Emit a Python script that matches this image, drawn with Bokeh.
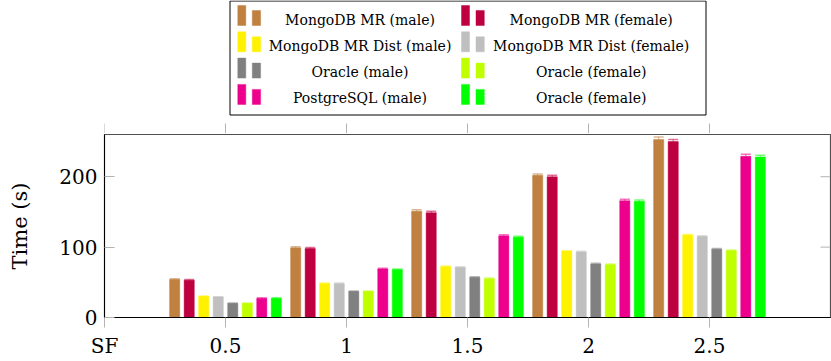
import math
from bokeh.plotting import figure
from bokeh.layouts import column
from bokeh.models import (ColumnDataSource, FixedTicker, Range1d, Whisker, Label, TeeHead)
from bokeh.embed import file_html
from bokeh.resources import INLINE

# ---------------- data ----------------
sf = [0.5, 1.0, 1.5, 2.0, 2.5]

series_names = ["MongoDB MR (male)", "MongoDB MR (female)",
                "MongoDB MR Dist (male)", "MongoDB MR Dist (female)",
                "Oracle (male)", "Oracle (female)",
                "PostgreSQL (male)", "Oracle (female)"]
series_colors = ["#BF8040", "#BF0040", "#FFF200", "#BFBFBF",
                 "#808080", "#BFFF00", "#EC008C", "#00FF00"]

mongo_mr_male = [54, 99, 151, 202, 253]
mongo_mr_female = [53, 98, 149, 200, 250]
mongo_dist_male = [30, 48, 72, 94, 117]
mongo_dist_female = [29, 48, 71, 93, 115]
oracle_male = [20, 37, 57, 76, 97]
oracle_female = [20, 37, 55, 75, 95]
postgres_male = [27, 69, 116, 166, 229]
oracle_female_2 = [27, 68, 114, 165, 228]

mongo_mr_male_err = [1.0, 1.5, 2.0, 2.0, 3.5]
mongo_mr_female_err = [1.0, 1.5, 2.0, 2.0, 3.0]
mongo_dist_male_err = [0.5, 1.0, 1.0, 1.0, 1.0]
mongo_dist_female_err = [0.5, 1.0, 1.0, 1.0, 1.0]
oracle_male_err = [0.5, 0.5, 1.0, 1.0, 1.0]
oracle_female_err = [0.5, 0.5, 1.0, 1.0, 1.0]
postgres_male_err = [1.0, 1.0, 1.5, 2.0, 3.0]
oracle_female_2_err = [1.0, 1.0, 1.5, 2.0, 2.5]

xtick_values = [0, 0.5, 1, 1.5, 2, 2.5]
xtick_labels = ["SF", "0.5", "1", "1.5", "2", "2.5"]
ytick_values = [0, 100, 200]

series_values = [mongo_mr_male, mongo_mr_female, mongo_dist_male, mongo_dist_female,
                 oracle_male, oracle_female, postgres_male, oracle_female_2]
series_errors = [mongo_mr_male_err, mongo_mr_female_err, mongo_dist_male_err,
                 mongo_dist_female_err, oracle_male_err, oracle_female_err,
                 postgres_male_err, oracle_female_2_err]

SERIF = "DejaVu Serif"
TICK_GRAY = "#b3b3b3"
W, H = 831, 361
LEG_H = 133
FRAME_L, FRAME_R = 104, 830

x_range = Range1d(0, 3)

# ---------------- main plot ----------------
p = figure(width=W, height=H - LEG_H, x_range=x_range, y_range=Range1d(0, 260),
           output_backend="svg", toolbar_location=None,
           min_border_left=FRAME_L, min_border_right=W - FRAME_R, min_border_top=1,
           min_border_bottom=44)
p.background_fill_color = "white"
p.border_fill_color = "white"
p.xgrid.grid_line_color = None
p.ygrid.grid_line_color = None
p.outline_line_color = "#505050"
p.outline_line_width = 1.2

bar_step = 0.06
bar_width = 0.042
n = len(series_values)
for i, (vals, errs, col) in enumerate(zip(series_values, series_errors, series_colors)):
    off = (i - (n - 1) / 2) * bar_step
    xs = [s + off for s in sf]
    src = ColumnDataSource(dict(x=xs, top=vals,
                                upper=[v + e for v, e in zip(vals, errs)],
                                lower=[v - e for v, e in zip(vals, errs)]))
    p.vbar(x="x", top="top", bottom=0, width=bar_width, source=src,
           fill_color=col, line_color=col, line_alpha=0.45, line_width=1)
    w = Whisker(source=src, base="x", upper="upper", lower="lower",
                line_color=col, line_alpha=0.55, line_width=1,
                upper_head=TeeHead(size=10, line_color=col, line_alpha=0.55, line_width=1.5),
                lower_head=TeeHead(size=10, line_color=col, line_alpha=0.55, line_width=1.5))
    p.add_layout(w)

# right mirrored (inward) y ticks
p.ray(x=[x_range.end] * len(ytick_values), y=ytick_values, length=10, length_units="screen",
      angle=math.pi, line_color=TICK_GRAY, line_width=1)

# bottom x axis
xa = p.xaxis[0]
xa.ticker = FixedTicker(ticks=xtick_values)
xa.major_label_overrides = {float(v): lab for v, lab in zip(xtick_values, xtick_labels)}
xa.minor_tick_line_color = None
xa.major_tick_in = 0
xa.major_tick_out = 10
xa.major_tick_line_color = TICK_GRAY
xa.axis_line_color = "black"
xa.major_label_text_font = SERIF
xa.major_label_text_font_size = "20px"
xa.major_label_text_color = "black"
xa.major_label_standoff = 6

# left y axis
ya = p.yaxis[0]
ya.ticker = FixedTicker(ticks=ytick_values)
ya.minor_tick_line_color = None
ya.major_tick_in = 10
ya.major_tick_out = 0
ya.major_tick_line_color = TICK_GRAY
ya.axis_line_color = "black"
ya.major_label_text_font = SERIF
ya.major_label_text_font_size = "20px"
ya.major_label_text_color = "black"
ya.major_label_standoff = 7
ya.axis_label = "Time (s)"
ya.axis_label_text_font = SERIF
ya.axis_label_text_font_size = "21px"
ya.axis_label_text_font_style = "normal"
ya.axis_label_text_color = "black"
ya.axis_label_standoff = 24

# ---------------- legend panel (shares x frame with the plot) ----------------
leg = figure(width=W, height=LEG_H, x_range=x_range, y_range=Range1d(LEG_H, 0),
             output_backend="svg", toolbar_location=None,
             x_axis_location=None, y_axis_location=None,
             min_border_left=FRAME_L, min_border_right=W - FRAME_R,
             min_border_top=0, min_border_bottom=0)
leg.grid.visible = False
leg.outline_line_color = None
leg.background_fill_color = "white"
leg.border_fill_color = "white"


def px(xpix):
    """page pixel -> data x of the shared frame"""
    return (xpix - FRAME_L) / (FRAME_R - FRAME_L) * (x_range.end - x_range.start) + x_range.start


# top mirrored (outward) x ticks, just above the plot frame
leg.segment(x0=xtick_values, x1=xtick_values, y0=[LEG_H - 10] * len(xtick_values),
            y1=[LEG_H] * len(xtick_values), line_color=TICK_GRAY, line_width=1)

# legend box
leg.quad(left=[px(229.5)], right=[px(705.5)], top=[0.5], bottom=[114.5],
         fill_color=None, line_color="black", line_width=1)

col_swatch_x = [237.3, 461.0]
col_text_x = [359.5, 590.7]
row_pitch = 26.3
first_row_bottom = 25.0
tl, tr, tt, sl, sr, st, bt = [], [], [], [], [], [], []
for i in range(n):
    r, c = divmod(i, 2)
    b = first_row_bottom + r * row_pitch
    x0 = col_swatch_x[c]
    bt.append(b)
    tl.append(px(x0)); tr.append(px(x0 + 8)); tt.append(b - 20)
    sl.append(px(x0 + 14.5)); sr.append(px(x0 + 22.8)); st.append(b - 15)
    leg.add_layout(Label(x=px(col_text_x[c]), y=b - 6, text=series_names[i],
                         text_font=SERIF, text_font_size="14px", text_align="center",
                         text_baseline="middle", text_color="black"))

lsrc = ColumnDataSource(dict(tl=tl, tr=tr, tt=tt, sl=sl, sr=sr, st=st, b=bt,
                             color=series_colors))
leg.quad(left="tl", right="tr", top="tt", bottom="b", fill_color="color",
         line_color="color", line_alpha=0.45, source=lsrc)
leg.quad(left="sl", right="sr", top="st", bottom="b", fill_color="color",
         line_color="color", line_alpha=0.45, source=lsrc)

layout = column(leg, p, spacing=0)
open("out.html", "w").write(file_html(layout, INLINE))
